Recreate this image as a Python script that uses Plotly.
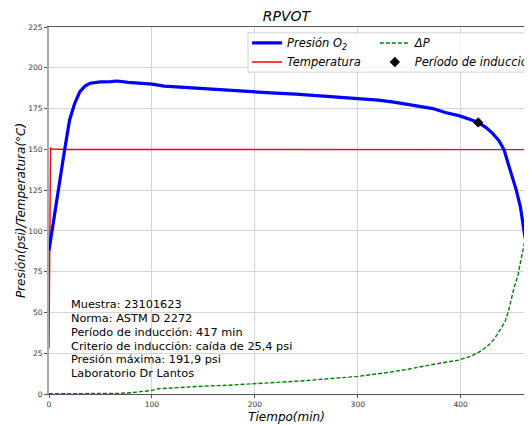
import plotly.graph_objects as go

# presión de O2 (psi) vs tiempo (min)
t_pres = [0, 5, 10, 15, 20, 25, 30, 35, 40, 50, 60, 66, 77, 90, 100, 112, 130, 144,
          160, 176, 190, 205, 220, 240, 260, 280, 300, 320, 335, 350, 364, 373, 385,
          399, 410, 417, 425, 431, 437, 442, 447, 451, 454, 458, 460, 462, 466]
presion = [88, 109, 129, 149, 168, 178.2, 185.4, 188.8, 190.5, 191.3, 191.5, 191.9,
           191.1, 190.6, 190.0, 188.8, 188.0, 187.4, 186.7, 186.0, 185.4, 184.9,
           184.4, 183.8, 183.0, 182.2, 181.3, 180.2, 178.9, 177.5, 175.8, 175.0,
           172.6, 170.5, 168.2, 166.5, 163.2, 159.8, 155.5, 150.0, 139.4, 131.0,
           125.0, 114.8, 104.6, 98, 85]

# temperatura (°C)
t_temp = [0, 0.4, 0.8, 1.5, 3, 20, 470]
temperatura = [28, 90, 150.5, 151, 150.2, 149.9, 149.8]

# caída de presión ΔP (psi)
t_dp = [0, 30, 65, 80, 90, 100, 106, 125, 150, 175, 200, 220, 250, 275, 300, 325,
        350, 370, 385, 398, 410, 420, 428, 433, 438, 443, 446, 449, 452, 455.6,
        458, 460.4, 462]
delta_p = [0.2, 0.2, 0.3, 0.8, 1.5, 2.2, 3.2, 4.0, 4.8, 5.4, 6.3, 7.0, 8.2, 9.5,
           10.8, 12.8, 15.3, 17.8, 19.2, 20.8, 23.2, 26.5, 30.5, 34.1, 39.0, 44.3,
           50.0, 58.6, 65.5, 72.9, 80.0, 87.2, 93.0]

# período de inducción
t_ind = [417]
p_ind = [166.5]

info_lines = ["Muestra: 23101623",
              "Norma: ASTM D 2272",
              "Período de inducción: 417 min",
              "Criterio de inducción: caída de 25,4 psi",
              "Presión máxima: 191,9 psi",
              "Laboratorio Dr Lantos"]

fnt = "DejaVu Sans"

fig = go.Figure()

fig.add_trace(go.Scatter(x=t_temp, y=temperatura, mode='lines', name='Temperatura',
                         line=dict(color='#ff0000', width=1.4), legend='legend',
                         legendrank=2))
fig.add_trace(go.Scatter(x=t_dp, y=delta_p, mode='lines', name='ΔP',
                         line=dict(color='#008000', width=1.4, dash='4px,2px'),
                         legend='legend2', legendrank=1))
fig.add_trace(go.Scatter(x=t_pres, y=presion, mode='lines', name='Presión O<sub>2</sub>',
                         line=dict(color='#0000ff', width=3.2), legend='legend',
                         legendrank=1))
fig.add_trace(go.Scatter(x=t_ind, y=p_ind, mode='markers', name='Período de inducción',
                         marker=dict(color='black', symbol='diamond', size=8),
                         legend='legend2', legendrank=2))

# texto informativo, una línea por anotación
for i, txt in enumerate(info_lines):
    fig.add_annotation(x=19.5, y=54.6 - 8.4 * i, xref='x', yref='y', text=txt,
                       showarrow=False, xanchor='left', yanchor='middle',
                       font=dict(family=fnt, size=11.3, color='black'))

# marco de la leyenda
fig.add_shape(type='rect', xref='paper', yref='paper', x0=0.419, x1=1.05,
              y0=0.877, y1=0.984, layer='above',
              fillcolor='rgba(255,255,255,0.8)', line=dict(color='#d0d0d0', width=1))

leg_font = dict(family=fnt, size=11.5, color='black', style='italic')
# la página añade 8 px de margen, así que la figura es 8 px menor
fig.update_layout(
    width=524, height=417,
    margin=dict(l=41, r=8, t=19, b=31, autoexpand=False),
    paper_bgcolor='white', plot_bgcolor='white',
    showlegend=True,
    title=dict(text='RPVOT', x=0.5, xref='paper', xanchor='center',
               y=1 - 8 / 417, yanchor='middle',
               font=dict(family=fnt, size=14, color='black', style='italic')),
    legend=dict(x=0.417, y=0.996, xanchor='left', yanchor='top',
                bgcolor='rgba(0,0,0,0)', borderwidth=0, font=leg_font,
                tracegroupgap=0, itemwidth=30),
    legend2=dict(x=0.686, y=0.996, xanchor='left', yanchor='top',
                 bgcolor='rgba(0,0,0,0)', borderwidth=0, font=leg_font,
                 tracegroupgap=0, itemwidth=30),
)

fig.update_xaxes(range=[0, 461.5], tickvals=[0, 100, 200, 300, 400],
                 showgrid=True, gridcolor='#d4d4d4', gridwidth=1, zeroline=False,
                 showline=True, linecolor='#555555', linewidth=1.3, mirror=True,
                 ticks='outside', ticklen=3, tickcolor='#555555',
                 tickfont=dict(family=fnt, size=7.5, color='#333333'),
                 title=dict(text='Tiempo(min)', standoff=4,
                            font=dict(family=fnt, size=12, color='black', style='italic')))
fig.update_yaxes(range=[0, 225], tickvals=list(range(0, 226, 25)),
                 showgrid=True, gridcolor='#d4d4d4', gridwidth=1, zeroline=False,
                 showline=True, linecolor='#aaaaaa', linewidth=2,
                 ticks='outside', ticklen=3, tickcolor='#555555',
                 tickfont=dict(family=fnt, size=7.5, color='#333333'),
                 title=dict(text='Presión(psi)/Temperatura(°C)', standoff=0,
                            font=dict(family=fnt, size=12, color='black', style='italic')))

fig.write_html("out.html")
